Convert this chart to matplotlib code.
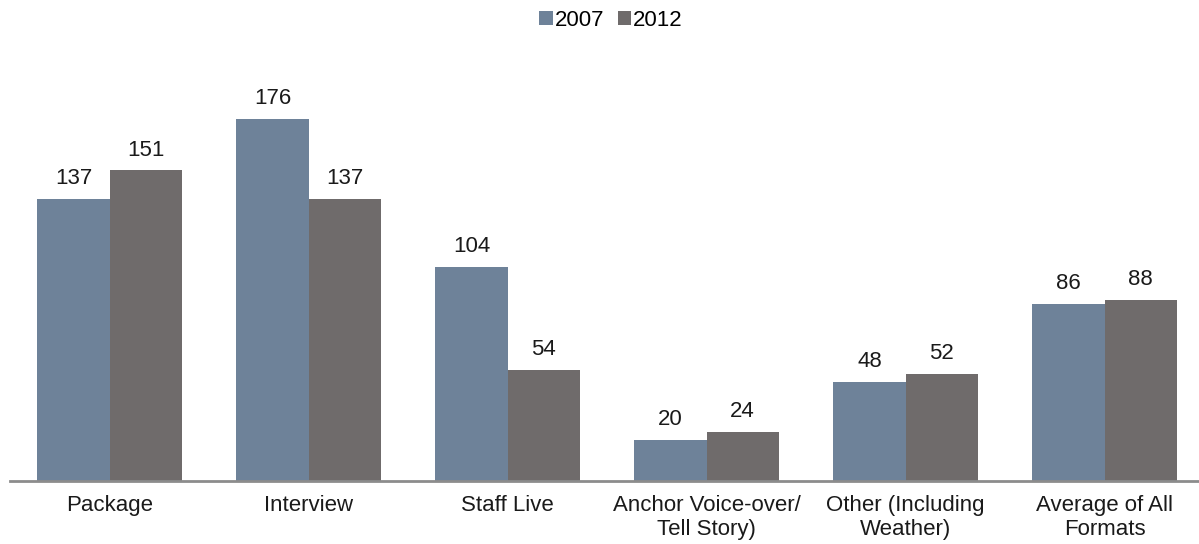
import matplotlib
matplotlib.use("Agg")
import matplotlib.pyplot as plt
import numpy as np

categories = ["Package", "Interview", "Staff Live", "Anchor Voice-over/\nTell Story)",
              "Other (Including\nWeather)", "Average of All\nFormats"]
series_names = ["2007", "2012"]
values_2007 = [137, 176, 104, 20, 48, 86]
values_2012 = [151, 137, 54, 24, 52, 88]
colors = ["#6E8299", "#6F6B6B"]

plt.rcParams['font.family'] = ['Liberation Sans', 'DejaVu Sans']

W, H = 1199, 544
fig = plt.figure(figsize=(W/100, H/100), dpi=100)
left = 10 / W
right_px = 1204
bottom = 1 - 481 / H
top = 1 - 69.4 / H
ax = fig.add_axes([left, bottom, (right_px - 10) / W, top - bottom])

x = np.arange(len(categories))
bw = 0.362
b1 = ax.bar(x - bw/2, values_2007, bw, color=colors[0], label=series_names[0])
b2 = ax.bar(x + bw/2, values_2012, bw, color=colors[1], label=series_names[1])
for bars, vals in ((b1, values_2007), (b2, values_2012)):
    for rect, v in zip(bars, vals):
        ax.annotate(str(v), (rect.get_x() + rect.get_width()/2, v), xytext=(0, 7),
                    textcoords="offset points", ha="center", va="bottom", fontsize=16, color="#1a1a1a")

ax.set_xlim(-0.5, 5.5)
ax.set_ylim(0, 200)
ax.set_xticks(x)
ax.set_xticklabels(categories, fontsize=16, color="#1a1a1a", linespacing=1.2)
ax.tick_params(axis='x', length=0, pad=10)
ax.set_yticks([])
for s in ("top", "right", "left"):
    ax.spines[s].set_visible(False)
ax.spines["bottom"].set_color("#8c8c8c")
ax.spines["bottom"].set_linewidth(2)

fig.legend(handles=[b1, b2], labels=series_names, loc="center", bbox_to_anchor=(611 / W, 1 - 20/H),
           ncol=2, frameon=False, fontsize=16, handlelength=0.6, handleheight=0.6,
           handletextpad=0.1, columnspacing=0.6)

fig.savefig("out.png", dpi=100)
